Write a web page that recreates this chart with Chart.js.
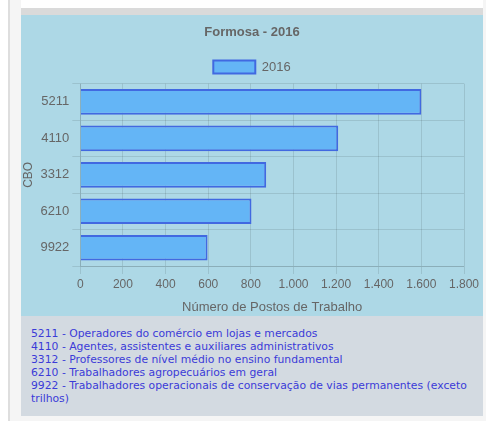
<!DOCTYPE html>
<html>
<head>
<meta charset="utf-8">
<script src="https://cdn.jsdelivr.net/npm/chart.js@4"></script>
<style>
  body { margin: 0; background: #fff; width: 486px; height: 421px; position: relative; overflow: hidden; }
  .side { position: absolute; left: 8px; top: 0; width: 11px; height: 421px; background: #f5f5f5; border-left: 2px solid #dedede; }
  .bottom { position: absolute; left: 10px; top: 415px; width: 476px; height: 6px; background: #f5f5f5; }
  .right { position: absolute; left: 483px; top: 0; width: 3px; height: 421px; background: #f5f5f5; }
  .topbar { position: absolute; left: 21px; top: 8px; width: 462px; height: 7px; background: #dadada; }
  .chart-box { position: absolute; left: 21px; top: 15px; width: 462px; height: 301px; background: #add8e6; }
  .legend-text {
    position: absolute; left: 21px; top: 316px; width: 444px; height: 89px;
    background: #d3dae1; padding: 11px 8px 0 10px;
    font-family: "DejaVu Sans", Verdana, sans-serif; font-size: 10.8px; line-height: 13px; color: #3b3bd8;
  }
</style>
</head>
<body>
<div class="side"></div>
<div class="right"></div>
<div class="bottom"></div>
<div class="topbar"></div>
<div class="chart-box"><canvas id="chart" width="462" height="301"></canvas></div>
<div class="legend-text" id="cbo-list"></div>
<script>
const codes = ["5211", "4110", "3312", "6210", "9922"];
const descriptions = [
  "Operadores do comércio em lojas e mercados",
  "Agentes, assistentes e auxiliares administrativos",
  "Professores de nível médio no ensino fundamental",
  "Trabalhadores agropecuários em geral",
  "Trabalhadores operacionais de conservação de vias permanentes (exceto trilhos)",
];
const values2016 = [1600, 1210, 872, 803, 597];

// footer list with the meaning of each code
const list = document.getElementById("cbo-list");
codes.forEach((code, i) => {
  const row = document.createElement("div");
  row.textContent = `${code} - ${descriptions[i]}`;
  list.appendChild(row);
});

const fmt = (v) => String(v).replace(/\B(?=(\d{3})+(?!\d))/g, ".");
const gridColor = "rgba(0, 0, 0, 0.1)";

Chart.defaults.font.family = "'Liberation Sans', Arial, sans-serif";
Chart.defaults.color = "#666";

new Chart(document.getElementById("chart"), {
  type: "bar",
  data: {
    labels: codes,
    datasets: [
      {
        label: "2016",
        data: values2016,
        backgroundColor: "#64b5f6",
        borderColor: "#4169e1",
        borderWidth: 2,
        barPercentage: 0.88,
      },
    ],
  },
  options: {
    indexAxis: "y",
    responsive: false,
    animation: false,
    plugins: {
      title: {
        display: true,
        text: "Formosa - 2016",
        font: { size: 13, weight: "bold" },
      },
      legend: {
        labels: { boxWidth: 42, boxHeight: 13, font: { size: 13 } },
      },
      tooltip: { enabled: false },
    },
    scales: {
      x: {
        min: 0,
        max: 1800,
        ticks: { stepSize: 200, callback: (v) => fmt(v), font: { size: 12 } },
        grid: { color: gridColor },
        title: { display: true, text: "Número de Postos de Trabalho", font: { size: 13 }, padding: { top: 5, bottom: 1 } },
        // keep room on the right like the original page
        afterFit: (scale) => { scale.paddingRight = 19; },
      },
      y: {
        ticks: { font: { size: 13 } },
        grid: { color: gridColor },
        title: { display: true, text: "CBO", font: { size: 12 }, padding: { top: 0, bottom: 2 } },
      },
    },
  },
});
</script>
</body>
</html>
